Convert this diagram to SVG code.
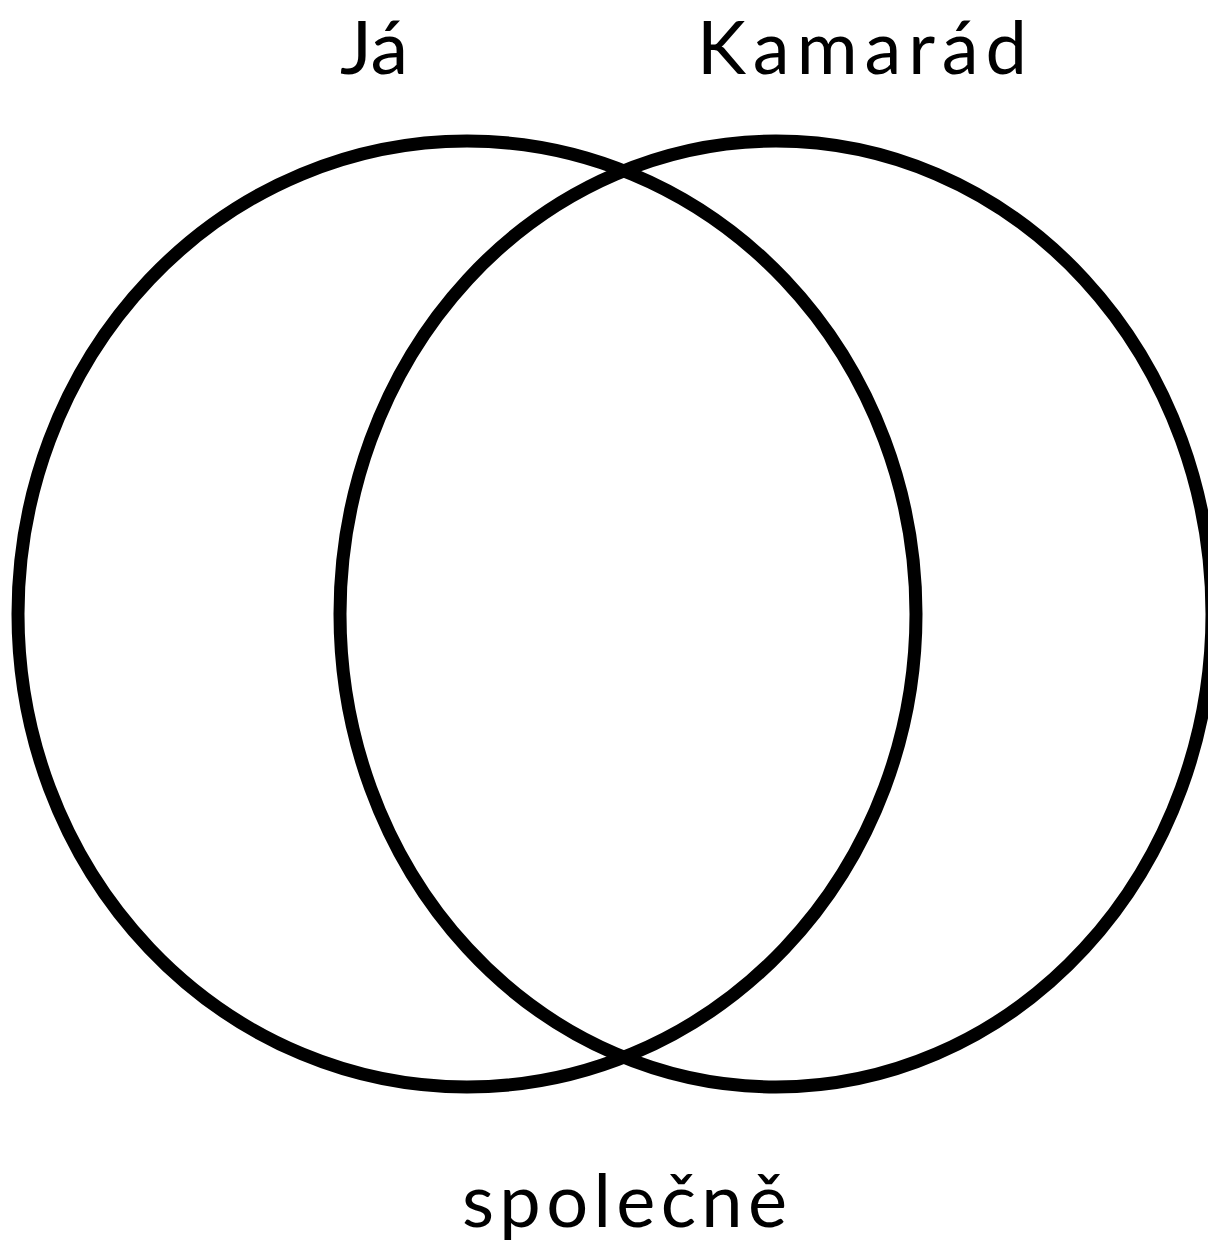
<svg xmlns="http://www.w3.org/2000/svg" width="1208" height="1243" viewBox="0 0 1208 1243">
<style>
.c{fill:none;stroke:#000;stroke-width:13}
.t{font-family:Lato,"Open Sans","Liberation Sans",sans-serif;font-size:74px;fill:#000}
</style>
<rect width="1208" height="1243" fill="#fff"/>
<g id="ja-circle"><ellipse class="c" cx="467" cy="614" rx="449" ry="473"/></g>
<g id="kamarad-circle"><ellipse class="c" cx="776" cy="614" rx="436" ry="473"/></g>
<g id="labels">
<text class="t" x="340" y="74" textLength="68" lengthAdjust="spacingAndGlyphs">Já</text>
<text class="t" x="697" y="74" textLength="330" lengthAdjust="spacing">Kamarád</text>
<text class="t" x="462" y="1227" textLength="325" lengthAdjust="spacing">společně</text>
</g>
<g id="connectors"/>
</svg>
